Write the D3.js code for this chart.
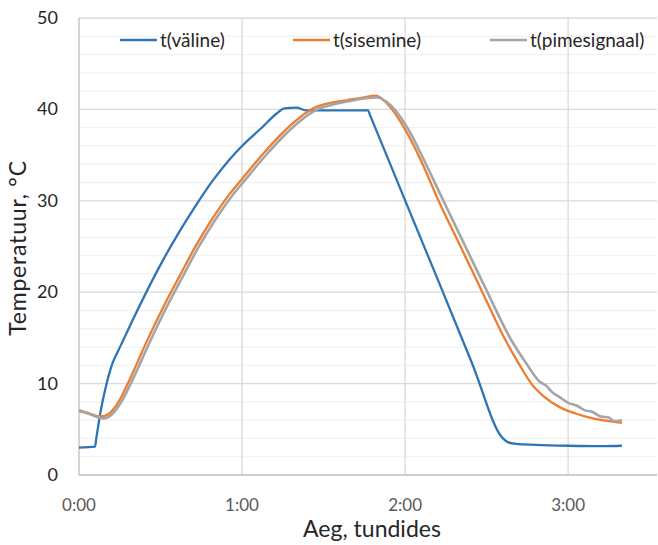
<!DOCTYPE html>
<html>
<head>
<script src="https://d3js.org/d3.v7.min.js"></script>
<style>
  body { margin: 0; background: #fff; }
  text { font-family: Lato, "Noto Sans", sans-serif; }
</style>
</head>
<body>
<div id="vis"></div>
<script>
// time in hours, temperature in °C
const seriesNames = ["t(väline)", "t(sisemine)", "t(pimesignaal)"];
const seriesColors = ["#2E75B6", "#ED7D31", "#A5A5A5"];

const valineT = [0, 0.098, 0.106, 0.133, 0.164, 0.205, 0.246, 0.328, 0.41, 0.512, 0.615, 0.717, 0.82, 0.922, 1.0, 1.127, 1.209, 1.26, 1.332, 1.393, 1.475, 1.773, 1.785, 2.0, 2.2, 2.41, 2.60, 2.63, 2.68, 2.8, 3.0, 3.2, 3.33];
const valineV = [3.0, 3.1, 4.0, 7.0, 9.6, 12.2, 13.8, 16.9, 19.9, 23.4, 26.6, 29.5, 32.2, 34.5, 36.0, 38.1, 39.5, 40.1, 40.2, 39.9, 39.9, 39.9, 39.38, 30.05, 21.4, 12.25, 4.0, 3.6, 3.4, 3.3, 3.2, 3.15, 3.2];

const sisemineT = [0, 0.061, 0.133, 0.184, 0.246, 0.307, 0.41, 0.512, 0.615, 0.717, 0.82, 0.922, 1.0, 1.127, 1.23, 1.332, 1.434, 1.537, 1.64, 1.74, 1.82, 1.87, 1.92, 2.0, 2.1, 2.205, 2.34, 2.474, 2.62, 2.70, 2.774, 2.85, 2.95, 3.05, 3.15, 3.25, 3.33];
const sisemineV = [7.1, 6.75, 6.4, 6.7, 8.1, 10.3, 14.4, 18.2, 21.7, 25.1, 28.1, 30.7, 32.4, 35.1, 37.1, 38.8, 40.1, 40.7, 41.0, 41.3, 41.5, 41.0, 40.0, 37.8, 34.3, 30.0, 25.0, 20.0, 14.6, 12.1, 10.0, 8.6, 7.4, 6.7, 6.2, 5.9, 5.7];

const pimeT = [0, 0.06, 0.15, 0.20, 0.26, 0.32, 0.425, 0.527, 0.63, 0.732, 0.835, 0.937, 1.015, 1.142, 1.245, 1.347, 1.449, 1.552, 1.655, 1.75, 1.83, 1.88, 1.94, 2.02, 2.12, 2.235, 2.37, 2.505, 2.65, 2.74, 2.82, 2.87, 2.90, 2.95, 3.00, 3.05, 3.10, 3.15, 3.20, 3.25, 3.28, 3.33];
const pimeV = [7.0, 6.7, 6.2, 6.6, 8.0, 10.1, 14.2, 18.0, 21.5, 24.9, 27.9, 30.5, 32.2, 34.9, 36.9, 38.6, 39.9, 40.5, 40.9, 41.2, 41.3, 40.9, 39.9, 37.8, 34.3, 30.0, 25.0, 20.0, 14.8, 12.3, 10.3, 9.7, 9.1, 8.5, 7.9, 7.6, 7.1, 6.9, 6.4, 6.3, 5.9, 6.0];

const xTicks = [0, 1, 2, 3];
const yMajor = [0, 10, 20, 30, 40, 50];
const yMinor = d3.range(0, 51, 2);

const width = 658, height = 545;
const plot = { left: 79, right: 657, top: 18, bottom: 475 };

const x = d3.scaleLinear().domain([0, 3.545]).range([plot.left, plot.right]);
const y = d3.scaleLinear().domain([0, 50]).range([plot.bottom, plot.top]);

const svg = d3.select('#vis').append('svg')
  .attr('width', width)
  .attr('height', height);

// minor grid
svg.append('g').selectAll('line')
  .data(yMinor.filter(v => v % 10 !== 0))
  .enter().append('line')
  .attr('x1', plot.left).attr('x2', plot.right)
  .attr('y1', d => y(d)).attr('y2', d => y(d))
  .attr('stroke', '#F2F2F2').attr('stroke-width', 1.3);

// major grid
svg.append('g').selectAll('line')
  .data(yMajor.slice(1))
  .enter().append('line')
  .attr('x1', plot.left).attr('x2', plot.right)
  .attr('y1', d => y(d)).attr('y2', d => y(d))
  .attr('stroke', '#D9D9D9').attr('stroke-width', 1.3);

svg.append('g').selectAll('line')
  .data(xTicks.slice(1))
  .enter().append('line')
  .attr('x1', d => x(d)).attr('x2', d => x(d))
  .attr('y1', plot.top).attr('y2', plot.bottom)
  .attr('stroke', '#D9D9D9').attr('stroke-width', 1.3);

// axes lines
svg.append('line')
  .attr('x1', plot.left).attr('x2', plot.left)
  .attr('y1', plot.top).attr('y2', plot.bottom)
  .attr('stroke', '#BFBFBF').attr('stroke-width', 1.3);
svg.append('line')
  .attr('x1', plot.left).attr('x2', plot.right)
  .attr('y1', plot.bottom).attr('y2', plot.bottom)
  .attr('stroke', '#BFBFBF').attr('stroke-width', 1.3);

// tick labels
svg.append('g').selectAll('text')
  .data(yMajor)
  .enter().append('text')
  .attr('x', plot.left - 21)
  .attr('y', d => y(d) + 6)
  .attr('text-anchor', 'end')
  .attr('fill', '#262626')
  .style('font-size', '18px')
  .text(d => d);

svg.append('g').selectAll('text')
  .data(xTicks)
  .enter().append('text')
  .attr('x', d => x(d))
  .attr('y', 511)
  .attr('text-anchor', 'middle')
  .attr('fill', '#595959')
  .style('font-size', '17px')
  .text(d => d + ':00');

// axis titles
svg.append('text')
  .attr('x', 372).attr('y', 537)
  .attr('text-anchor', 'middle')
  .attr('fill', '#262626')
  .style('font-size', '23px')
  .text('Aeg, tundides');

svg.append('text')
  .attr('transform', 'translate(26,248) rotate(-90)')
  .attr('text-anchor', 'middle')
  .attr('fill', '#262626')
  .style('font-size', '23px')
  .style('letter-spacing', '0.8px')
  .text('Temperatuur, °C');

// lines
const line = d3.line()
  .x(d => x(d[0]))
  .y(d => y(d[1]))
  .curve(d3.curveMonotoneX);

const series = [
  d3.zip(valineT, valineV),
  d3.zip(sisemineT, sisemineV),
  d3.zip(pimeT, pimeV)
];

svg.append('g').selectAll('path')
  .data(series)
  .enter().append('path')
  .attr('d', line)
  .attr('fill', 'none')
  .attr('stroke', (d, i) => seriesColors[i])
  .attr('stroke-width', (d, i) => i === 2 ? 2.6 : 2.3)
  .attr('stroke-linejoin', 'round');

// legend
const legendX = [120, 293, 490];
const legend = svg.append('g').selectAll('g')
  .data(seriesNames)
  .enter().append('g')
  .attr('transform', (d, i) => `translate(${legendX[i]},40)`);

legend.append('line')
  .attr('x1', 0).attr('x2', 37)
  .attr('stroke', (d, i) => seriesColors[i])
  .attr('stroke-width', 2.3);

legend.append('text')
  .attr('x', 40).attr('y', 7)
  .attr('fill', '#262626')
  .style('font-size', '19px')
  .text(d => d);
</script>
</body>
</html>
